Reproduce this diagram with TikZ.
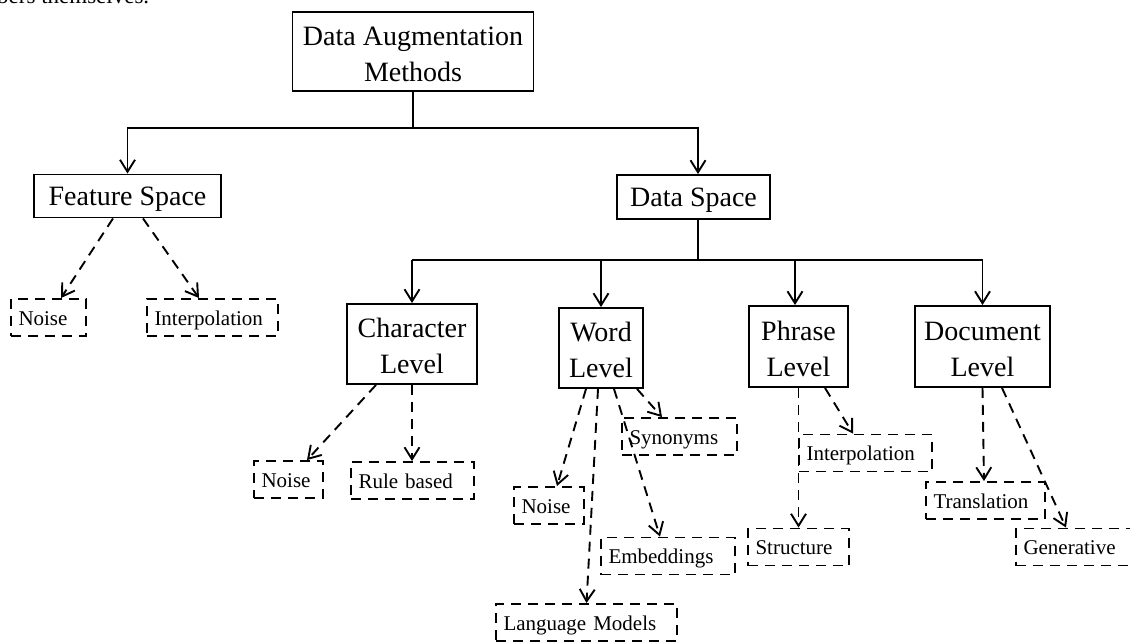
\documentclass[tikz,border=0pt]{standalone}
\usepackage{fontspec}
\setmainfont{Liberation Serif}
\usetikzlibrary{arrows.meta}
\newcommand{\toprule}{\rule{0pt}{24pt}}
\begin{document}
\begin{tikzpicture}[x=1pt,y=-1pt,
  mainbox/.style={draw, line width=1.9pt, inner sep=1pt, align=center, font=\fontsize{28}{36}\selectfont},
  onebox/.style={mainbox, text height=20pt, text depth=1pt},
  leaf/.style={draw, line width=1.9pt, dash pattern=on 10pt off 7pt, inner xsep=7.5pt, inner ysep=0pt, minimum height=37pt, text height=15pt, text depth=0pt, text width=#1, align=left, font=\fontsize{21}{25}\selectfont},
  solidline/.style={line width=1.9pt},
  conn/.style={line width=1.9pt, -{Straight Barb[length=12pt,width=15pt]}},
  dconn/.style={line width=1.9pt, dash pattern=on 10pt off 7pt, -{Straight Barb[length=12pt,width=15pt]}}]
\useasboundingbox (0,0) rectangle (1130,642);

\node[anchor=base west, inner sep=0pt, font=\fontsize{23}{28}\selectfont] (frag) at (-3,4) {bers themselves.};

% main boxes
\node[mainbox, minimum width=241pt, minimum height=79pt] (dam) at (413,51.5) {\toprule Data Augmentation\\Methods};
\node[onebox, minimum width=187pt, minimum height=43pt] (fs) at (127.5,196) {Feature Space};
\node[onebox, minimum width=153pt, minimum height=44pt] (ds) at (693.5,197) {Data Space};
\node[mainbox, minimum width=130pt, minimum height=80pt] (cl) at (412,344) {\toprule Character\\Level};
\node[mainbox, minimum width=84pt, minimum height=80pt] (wl) at (601,348) {\toprule Word\\Level};
\node[mainbox, minimum width=99pt, minimum height=81pt] (pl) at (798.5,346.5) {\toprule Phrase\\Level};
\node[mainbox, minimum width=135pt, minimum height=81pt] (dl) at (982.5,346.5) {\toprule Document\\Level};

% leaves
\node[leaf=60pt] (fn) at (48.5,317.5) {Noise};
\node[leaf=116pt] (fi) at (212.5,317.5) {Interpolation};
\node[leaf=54pt] (cn) at (288.5,479.5) {Noise};
\node[leaf=108pt] (cr) at (412.5,480.5) {Rule based};
\node[leaf=55pt] (wn) at (549,505.5) {Noise};
\node[leaf=100pt] (ws) at (679.5,436.5) {Synonyms};
\node[leaf=119pt] (we) at (668,556) {Embeddings};
\node[leaf=166pt] (wm) at (586.5,622.5) {Language Models};
\node[leaf=118pt] (pi) at (865.5,453) {Interpolation};
\node[leaf=86pt] (ps) at (798.5,547) {Structure};
\node[leaf=104pt] (dt) at (985.5,500.5) {Translation};
\node[leaf=103pt] (dg) at (1075,547) {Generative};

% solid tree connectors
\coordinate (b1) at (0,128);
\coordinate (b2) at (0,260);
\draw[conn] (dam.south) -- (dam.south |- b1) -| (fs.north);
\draw[conn] (dam.south |- b1) -| ([xshift=4.5pt]ds.north);
\draw[solidline] ([xshift=4.5pt]ds.south) -- ([xshift=4.5pt]ds.south |- b2);
\draw[solidline] (cl.north |- b2) -- (dl.north |- b2);
\draw[conn] (cl.north |- b2) -- (cl.north);
\draw[conn] (wl.north |- b2) -- (wl.north);
\draw[conn] ([xshift=-3.5pt]pl.north |- b2) -- ([xshift=-3.5pt]pl.north);
\draw[conn] (dl.north |- b2) -- (dl.north);

% dashed connectors
\draw[dconn] ([xshift=-14.5pt]fs.south) -- ([xshift=12.5pt]fn.north);
\draw[dconn] ([xshift=15.5pt]fs.south) -- ([xshift=-13.5pt]fi.north);
\draw[dconn] ([xshift=-36pt]cl.south) -- ([xshift=18.5pt]cn.north);
\draw[dconn] (cl.south) -- (cl.south |- cr.north);
\draw[dconn] ([xshift=-15pt]wl.south) -- ([xshift=8pt]wn.north);
\draw[dconn] ([xshift=-3pt]wl.south) -- (wm.north);
\draw[dconn] ([xshift=13pt]wl.south) -- ([xshift=-8pt]we.north);
\draw[dconn] ([xshift=36pt]wl.south) -- ([xshift=-17.5pt]ws.north);
\draw[dconn] (pl.south) -- (pl.south |- ps.north);
\draw[dconn] ([xshift=26.5pt]pl.south) -- ([xshift=-12.5pt]pi.north);
\draw[dconn] (dl.south) -- ([xshift=-1.5pt]dt.north);
\draw[dconn] ([xshift=19.5pt]dl.south) -- ([xshift=-9pt]dg.north);
\end{tikzpicture}
\end{document}
